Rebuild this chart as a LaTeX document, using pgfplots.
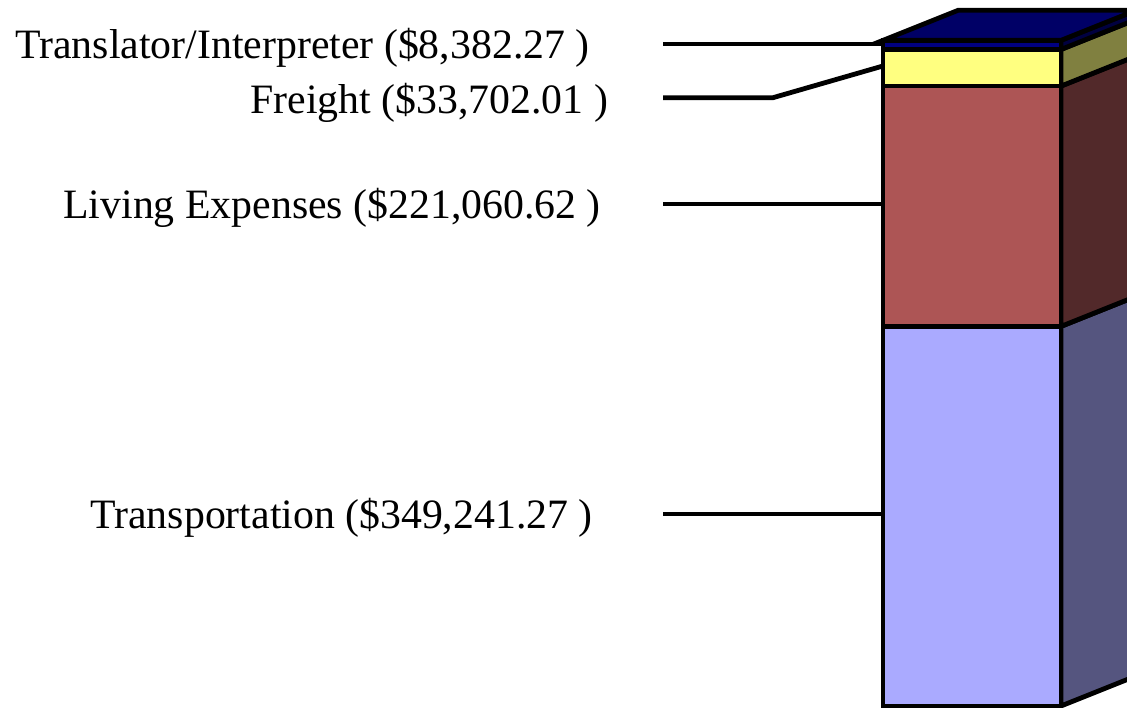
\documentclass[border=0pt]{standalone}
\usepackage{fontspec}
\setmainfont{Liberation Serif}
\usepackage{pgfplots}
\pgfplotsset{compat=1.18}
\definecolor{trF}{HTML}{AAAAFF}
\definecolor{trS}{HTML}{55557F}
\definecolor{lvF}{HTML}{AD5555}
\definecolor{lvS}{HTML}{52292A}
\definecolor{frF}{HTML}{FFFF80}
\definecolor{frS}{HTML}{808040}
\definecolor{tiF}{HTML}{000080}
\definecolor{tiS}{HTML}{000040}
\definecolor{tiT}{HTML}{000066}
\tikzset{lbl/.style={anchor=base west,inner sep=0pt,font=\fontsize{20.9}{25}\selectfont}}
\begin{document}
\begin{tikzpicture}
\pgfplotsset{base/.style={width=563.5pt,height=354pt,scale only axis,hide axis,
  xmin=0,xmax=1127,ymin=-1840,ymax=649520,clip=true}}
% side and top faces (depth: 75 px right, 27600 up)
\begin{axis}[base]
\addplot[fill=trS,draw=black,line width=2.4pt] coordinates {(1061,0) (1136,27600) (1136,376841.27) (1061,349241.27)} -- cycle;
\addplot[fill=lvS,draw=black,line width=2.4pt] coordinates {(1061,349241.27) (1136,376841.27) (1136,597901.89) (1061,570301.89)} -- cycle;
\addplot[fill=frS,draw=black,line width=2.4pt] coordinates {(1061,570301.89) (1136,597901.89) (1136,631603.90) (1061,604003.90)} -- cycle;
\addplot[fill=tiS,draw=black,line width=2.4pt] coordinates {(1061,604003.90) (1136,631603.90) (1136,639986.17) (1061,612386.17)} -- cycle;
\addplot[fill=tiT,draw=black,line width=2.4pt] coordinates {(883,612386.17) (958,639986.17) (1136,639986.17) (1061,612386.17)} -- cycle;
\end{axis}
% front faces
\begin{axis}[base, ybar stacked, bar width=178]
\addplot[fill=trF,draw=black,line width=2.4pt] coordinates {(972,349241.27)};
\addplot[fill=lvF,draw=black,line width=2.4pt] coordinates {(972,221060.62)};
\addplot[fill=frF,draw=black,line width=2.4pt] coordinates {(972,33702.01)};
\addplot[fill=tiF,draw=black,line width=2.4pt] coordinates {(972,8382.27)};
\end{axis}
% leader lines and labels
\begin{axis}[base]
\draw[line width=2.4pt] (axis cs:663,609040) -- (axis cs:883,609040);
\draw[line width=2.4pt] (axis cs:663,559636) -- (axis cs:773,559636) -- (axis cs:883,588800);
\draw[line width=2.4pt] (axis cs:663,461840) -- (axis cs:883,461840);
\draw[line width=2.4pt] (axis cs:663,176640) -- (axis cs:883,176640);
\node[lbl] at (axis cs:15,595240) {Translator/Interpreter (\$8,382.27 )};
\node[lbl] at (axis cs:250,544640) {Freight (\$33,702.01 )};
\node[lbl] at (axis cs:63,448040) {Living Expenses (\$221,060.62 )};
\node[lbl] at (axis cs:90,162840) {Transportation (\$349,241.27 )};
\end{axis}
\pgfresetboundingbox
\path (current axis.south west) rectangle (current axis.north east);
\end{tikzpicture}
\end{document}
